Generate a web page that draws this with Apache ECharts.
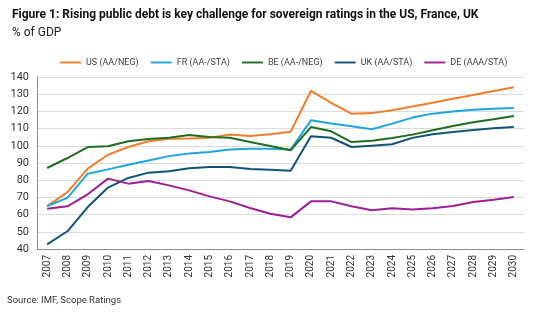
<!DOCTYPE html>
<html>
<head>
<meta charset="utf-8">
<script src="https://cdn.jsdelivr.net/npm/echarts@6/dist/echarts.min.js"></script>
<style>html,body{margin:0;padding:0;background:#fff}#c{width:550px;height:324px}</style>
</head>
<body>
<div id="c"></div>
<script>
const years = ['2007','2008','2009','2010','2011','2012','2013','2014','2015','2016','2017','2018','2019','2020','2021','2022','2023','2024','2025','2026','2027','2028','2029','2030'];
const us = [65,73.1,86.7,94.8,99.3,102.6,104.1,104.3,104.7,106.5,105.7,106.7,108.2,131.9,124.9,118.7,119.0,120.7,122.8,125.0,127.3,129.5,131.9,134.0];
const fr = [65,69.7,83.8,86.3,89.0,91.5,94.0,95.5,96.4,97.8,98.3,98.3,97.8,114.8,112.9,111.3,109.6,112.9,116.4,118.7,120.0,121.0,121.6,122.0];
const be = [87.1,92.9,99.3,99.7,102.6,104.0,104.7,106.3,105.1,104.7,102.2,99.9,97.4,110.9,108.4,102.2,103.0,104.6,106.5,109.0,111.5,113.7,115.4,117.3];
const uk = [42.7,50.3,64.4,75.7,81.3,84.4,85.2,87.0,87.7,87.7,86.5,86.1,85.5,105.5,104.7,99.3,100.1,100.9,104.6,106.7,108.0,109.2,110.2,111.0];
const de = [63.4,64.8,71.8,80.9,78.0,79.5,77.0,74.1,70.6,67.7,63.8,60.5,58.4,67.7,67.7,64.8,62.5,63.7,62.9,63.7,65.0,67.3,68.7,70.2];
const seriesNames = ['US (AA/NEG)','FR (AA-/STA)','BE (AA-/NEG)','UK (AA/STA)','DE (AAA/STA)'];
const colors = ['#ef7d2a','#1ea5e0','#1f6e1f','#0e5478','#9c1f96'];
const yTicks = {min:40, max:140, interval:10};
const titleText = 'Figure 1: Rising public debt is key challenge for sovereign ratings in the US, France, UK';
const subText = '% of GDP';
const sourceText = 'Source: IMF, Scope Ratings';

const chart = echarts.init(document.getElementById('c'), null, {renderer:'canvas'});
const dataSets = [us, fr, be, uk, de];
chart.setOption({
  animation:false,
  textStyle:{fontFamily:'Roboto'},
  title:[
    {text:titleText, left:7, top:4, textStyle:{fontFamily:'Roboto', fontWeight:'bold', fontSize:12, color:'#111'}},
    {text:subText, left:7, top:22, textStyle:{fontFamily:'Roboto', fontWeight:'normal', fontSize:12, color:'#222'}}
  ],
  legend:{
    left:60, top:58, width:600, padding:0, itemWidth:21, itemHeight:10, itemGap:12,
    icon:'path://M0,4 L22,4 L22,6 L0,6 Z',
    textStyle:{fontFamily:'Roboto', fontSize:9, color:'#404040'},
    data:seriesNames
  },
  grid:{left:37, right:26, top:77, bottom:75, containLabel:false},
  xAxis:{
    type:'category', data:years, boundaryGap:true,
    axisLine:{show:true, lineStyle:{color:'#8c8c8c', width:1}},
    axisTick:{show:false},
    axisLabel:{rotate:90, fontSize:10, color:'#333', margin:6, interval:0, fontFamily:'Roboto'}
  },
  yAxis:{
    type:'value', min:yTicks.min, max:yTicks.max, interval:yTicks.interval,
    axisLine:{show:true, lineStyle:{color:'#8c8c8c', width:1}},
    axisTick:{show:false},
    axisLabel:{fontSize:11, color:'#333', margin:8, fontFamily:'Roboto'},
    splitLine:{show:true, lineStyle:{color:'#dcdcdc', width:1}}
  },
  graphic:[{type:'text', left:7, top:296, style:{text:sourceText, font:'9.5px Roboto', fill:'#333'}}],
  series: seriesNames.map((n,i)=>({
    name:n, type:'line', data:dataSets[i], symbol:'none', smooth:false,
    lineStyle:{color:colors[i], width:2}, itemStyle:{color:colors[i]}
  }))
});
</script>
</body>
</html>
